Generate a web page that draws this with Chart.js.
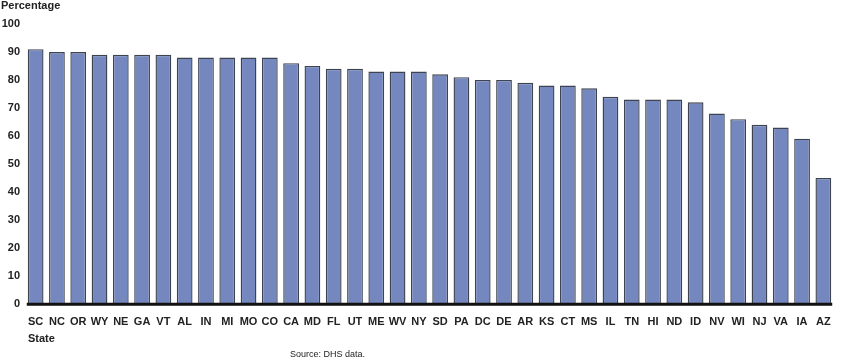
<!DOCTYPE html>
<html>
<head>
<meta charset="utf-8">
<script src="https://cdn.jsdelivr.net/npm/chart.js@4"></script>
<style>
  html, body { margin: 0; padding: 0; background: #fff; }
  #wrap { width: 850px; height: 363px; }
</style>
</head>
<body>
<div id="wrap"><canvas id="myChart" width="850" height="363"></canvas></div>
<script>
var states = ["SC", "NC", "OR", "WY", "NE", "GA", "VT", "AL", "IN", "MI", "MO", "CO", "CA",
  "MD", "FL", "UT", "ME", "WV", "NY", "SD", "PA", "DC", "DE", "AR", "KS", "CT", "MS", "IL",
  "TN", "HI", "ND", "ID", "NV", "WI", "NJ", "VA", "IA", "AZ"];
var percentages = [91, 90, 90, 89, 89, 89, 89, 88, 88, 88, 88, 88, 86,
  85, 84, 84, 83, 83, 83, 82, 81, 80, 80, 79, 78, 78, 77, 74,
  73, 73, 73, 72, 68, 66, 64, 63, 59, 45];
var yTicks = [0, 10, 20, 30, 40, 50, 60, 70, 80, 90, 100];

var fontFam = "'Liberation Sans', Arial, sans-serif";

// base line under the bars + the loose text labels
var extras = {
  id: "extras",
  afterDatasetsDraw: function (chart) {
    var ctx = chart.ctx;
    var bars = chart.getDatasetMeta(0).data;
    var first = bars[0], last = bars[bars.length - 1];
    var y0 = chart.scales.y.getPixelForValue(0);
    ctx.save();
    ctx.strokeStyle = "#111";
    ctx.lineWidth = 3;
    ctx.beginPath();
    ctx.moveTo(first.x - first.width / 2 - 1, y0 + 0.5);
    ctx.lineTo(last.x + last.width / 2 + 1, y0 + 0.5);
    ctx.stroke();

    ctx.fillStyle = "#222";
    ctx.textBaseline = "middle";
    ctx.textAlign = "left";
    ctx.font = "bold 11px " + fontFam;
    ctx.fillText("Percentage", 1, 6);
    ctx.fillText("State", 28, 339);
    ctx.font = "9px " + fontFam;
    ctx.fillText("Source: DHS data.", 290, 355);
    ctx.restore();
  }
};

new Chart(document.getElementById("myChart").getContext("2d"), {
  type: "bar",
  data: {
    labels: states,
    datasets: [{
      data: percentages,
      backgroundColor: "#7587bf",
      borderColor: "#3e4350",
      borderWidth: 1.4,
      barPercentage: 0.74,
      categoryPercentage: 1
    }]
  },
  options: {
    responsive: false,
    animation: false,
    layout: { padding: { top: 24, right: 16, bottom: 22, left: 0 } },
    plugins: { legend: { display: false }, tooltip: { enabled: false } },
    scales: {
      x: {
        grid: { display: false, drawTicks: false, tickLength: 0 },
        border: { display: false },
        ticks: {
          color: "#222",
          font: { family: fontFam, size: 11, weight: "bold" },
          maxRotation: 0,
          autoSkip: false,
          padding: 12
        }
      },
      y: {
        min: 0,
        max: 100,
        afterBuildTicks: function (axis) {
          axis.ticks = yTicks.map(function (v) { return { value: v }; });
        },
        afterFit: function (axis) { axis.width = 25; },
        grid: { display: false, drawTicks: false, tickLength: 0 },
        border: { display: false },
        ticks: {
          color: "#222",
          font: { family: fontFam, size: 11, weight: "bold" },
          padding: 5
        }
      }
    }
  },
  plugins: [extras]
});
</script>
</body>
</html>
